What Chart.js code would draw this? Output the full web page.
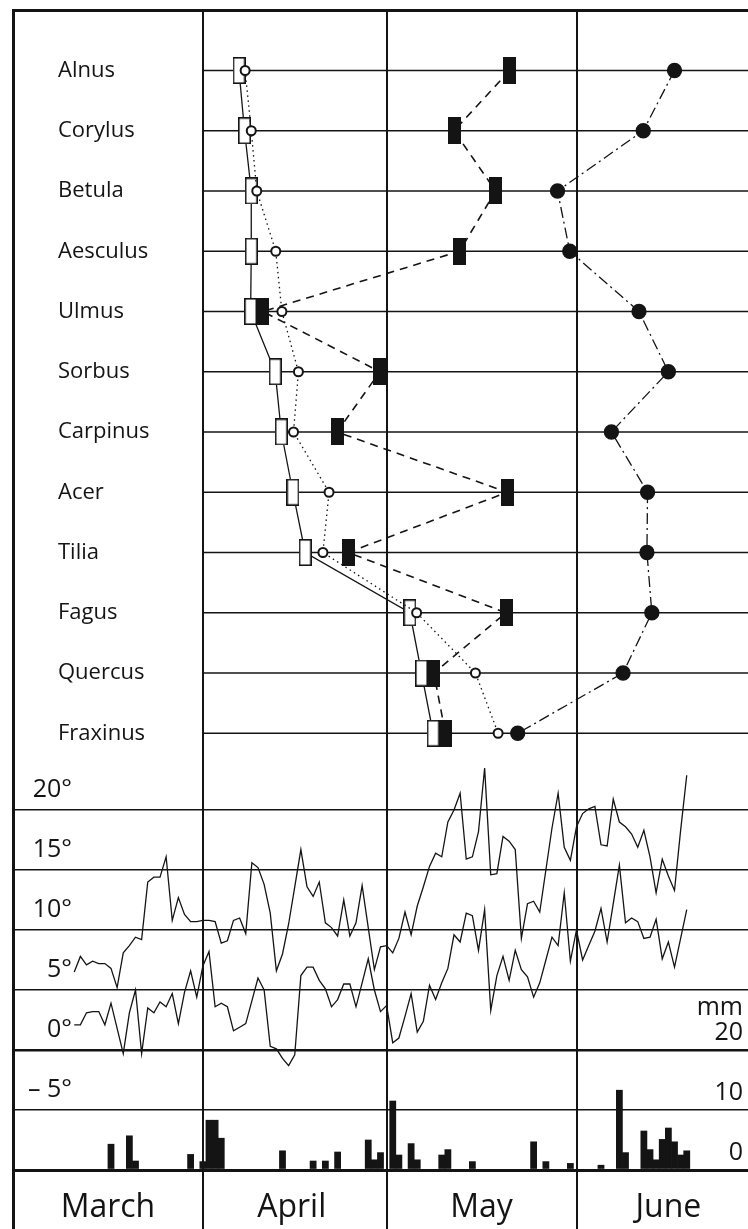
<!DOCTYPE html>
<html>
<head>
<meta charset="utf-8">
<script src="https://cdn.jsdelivr.net/npm/chart.js@4.4.1/dist/chart.umd.min.js"></script>
<style>
  html, body { margin: 0; padding: 0; background: #fff; }
  canvas { display: block; }
</style>
</head>
<body>
<canvas id="pheno-chart" width="748" height="1229"></canvas>
<script>
// day numbers count from 1 March (= 0)
const species = ["Alnus", "Corylus", "Betula", "Aesculus", "Ulmus", "Sorbus",
  "Carpinus", "Acer", "Tilia", "Fagus", "Quercus", "Fraxinus"];
const openRectDay = [36.9, 37.8, 38.9, 38.9, 38.8, 42.8, 43.8, 45.7, 47.7, 64.8, 66.7, 68.6];
const openCircleDay = [37.9, 38.9, 39.8, 42.9, 43.9, 46.6, 45.8, 51.6, 50.6, 65.9, 75.5, 79.2];
const filledRectDay = [81.1, 72.0, 78.8, 72.9, 40.8, 59.9, 52.9, 80.7, 54.7, 80.5, 68.7, 70.6];
const filledCircleDay = [108.0, 102.9, 88.9, 90.9, 102.2, 107.0, 97.7, 103.6, 103.5, 104.3, 99.6, 82.4];

const months = ["March", "April", "May", "June"];
const monthStart = [31, 61, 92];
const monthMid = [15.5, 45.5, 76.5, 107];

const tempTicks = [-5, 0, 5, 10, 15, 20];
const rainTicks = [0, 10, 20];

const tempFirstDay = 10;
const tempMax = [
  6.5, 7.8, 7.1, 7.4, 7.2, 7.2, 6.8, 5.2, 8.1, 8.7,
  9.4, 9.2, 14.0, 14.4, 14.4, 16.1, 10.8, 12.7, 11.3, 10.7,
  10.7, 10.8, 10.8, 10.7, 8.9, 9.1, 10.8, 11.0, 9.7, 15.6,
  15.2, 13.8, 11.4, 6.6, 8.0, 10.5, 13.6, 16.7, 13.6, 12.8,
  14.0, 10.6, 10.2, 9.5, 12.5, 9.5, 10.6, 13.7, 10.2, 6.7,
  8.6, 8.7, 8.1, 9.3, 11.5, 9.6, 12.0, 13.6, 15.3, 16.4,
  16.1, 19.0, 20.0, 21.4, 15.9, 16.1, 18.2, 23.5, 14.6, 14.7,
  17.8, 17.4, 16.7, 9.3, 12.2, 12.4, 11.5, 15.0, 18.5, 21.4,
  16.9, 15.8, 18.6, 19.7, 20.1, 20.3, 17.1, 17.0, 20.9, 19.0,
  18.6, 18.0, 16.9, 18.3, 16.1, 13.1, 15.9, 14.5, 13.3, 18.3,
  22.9
];
const tempMin = [
  2.1, 2.1, 3.1, 3.2, 3.2, 2.1, 3.9, 1.8, -0.3, 3.1,
  5.0, -0.3, 3.5, 3.1, 4.0, 3.6, 4.7, 2.2, 4.8, 6.6,
  4.4, 7.0, 8.2, 3.6, 3.9, 3.6, 1.6, 1.9, 2.2, 4.1,
  6.0, 5.0, 0.3, 0.1, -0.7, -1.3, -0.4, 6.2, 6.9, 6.9,
  5.8, 5.1, 3.6, 4.2, 5.5, 5.5, 3.6, 5.6, 7.6, 5.0,
  3.2, 3.7, 0.6, 1.0, 2.8, 4.7, 1.5, 2.4, 5.4, 4.2,
  5.6, 6.8, 9.6, 9.0, 11.4, 11.2, 8.3, 11.7, 3.3, 6.2,
  7.8, 5.8, 8.3, 6.7, 6.1, 4.4, 5.6, 7.5, 9.4, 8.7,
  13.1, 7.4, 10.0, 7.5, 8.7, 9.9, 11.8, 9.0, 12.2, 15.4,
  10.6, 11.0, 10.7, 9.3, 9.4, 10.9, 7.6, 9.0, 6.9, 9.3,
  11.7
];

const rainDays = [16, 19, 20, 29, 31, 32, 33, 34, 44, 49, 51, 53, 58, 59, 60, 62, 63, 65,
  66, 70, 71, 75, 85, 87, 91, 96, 99, 100, 103, 104, 105, 106, 107, 108, 109, 110];
const rainMm = [4.3, 5.7, 1.5, 2.6, 1.4, 8.3, 8.3, 5.3, 3.2, 1.5, 1.5, 3.0, 5.0, 1.7, 2.9, 11.5, 2.5, 4.4,
  1.7, 2.5, 3.4, 1.4, 4.7, 1.4, 1.1, 0.8, 13.3, 2.9, 6.5, 3.4, 1.7, 5.1, 7.0, 4.7, 2.5, 3.2];

// styles
const INK = "#141414";
const FONT = '"Open Sans", sans-serif';

function tempLabel(v) {
  return (v < 0 ? "\u2013 " + (-v) : String(v)) + "\u00b0";
}

// temperature labels are right aligned at x = 72
const measure = document.createElement("canvas").getContext("2d");
measure.font = "25px " + FONT;
const tempLabelW = Math.max(...tempTicks.map((v) => measure.measureText(tempLabel(v)).width));

function boxMarker(filled) {
  const c = document.createElement("canvas");
  c.width = 13;
  c.height = 27;
  const g = c.getContext("2d");
  g.fillStyle = filled ? INK : "#fff";
  g.fillRect(0, 0, 13, 27);
  g.strokeStyle = INK;
  g.lineWidth = 1.6;
  g.strokeRect(0.8, 0.8, 11.4, 25.4);
  return c;
}

function setTicks(values) {
  return (scale) => {
    scale.ticks = values.map((v) => ({ value: v }));
  };
}

// axes take no room, labels are drawn inside the plot
function flatten(scale) {
  if (scale.isHorizontal()) scale.height = 0;
  else scale.width = 0;
  scale.paddingTop = 0;
  scale.paddingBottom = 0;
  scale.paddingLeft = 0;
  scale.paddingRight = 0;
}

function series(days, extra) {
  return Object.assign({
    type: "line",
    yAxisID: "y",
    data: days.map((d, i) => ({ x: d, y: i })),
    borderColor: INK,
    borderWidth: 1.3,
    tension: 0,
    fill: false,
  }, extra);
}

const datasets = [
  series(filledCircleDay, {
    borderDash: [11, 4, 2, 4],
    pointStyle: "circle",
    pointRadius: 7,
    pointBackgroundColor: INK,
    pointBorderColor: INK,
  }),
  series(filledRectDay, {
    borderDash: [8, 6],
    borderWidth: 1.6,
    pointStyle: boxMarker(true),
    pointRadius: 6,
  }),
  series(openCircleDay, {
    borderDash: [1.5, 3.5],
    pointStyle: "circle",
    pointRadius: 4.5,
    pointBorderWidth: 2,
    pointBackgroundColor: "#fff",
    pointBorderColor: INK,
  }),
  series(openRectDay, {
    pointStyle: boxMarker(false),
    pointRadius: 6,
  }),
  {
    type: "line",
    yAxisID: "yT",
    data: tempMax.map((t, i) => ({ x: tempFirstDay + i, y: t })),
    borderColor: INK,
    borderWidth: 1.3,
    pointRadius: 0,
    tension: 0,
  },
  {
    type: "line",
    yAxisID: "yT",
    data: tempMin.map((t, i) => ({ x: tempFirstDay + i, y: t })),
    borderColor: INK,
    borderWidth: 1.3,
    pointRadius: 0,
    tension: 0,
  },
  {
    type: "bar",
    yAxisID: "yP",
    data: rainDays.map((d, i) => ({ x: d, y: rainMm[i] })),
    backgroundColor: INK,
    borderWidth: 0,
    categoryPercentage: 1,
    barPercentage: 1,
  },
];

// one line for each species, from 1 April to the right edge
species.forEach((s, i) => {
  datasets.push({
    type: "line",
    yAxisID: "y",
    data: [{ x: monthStart[0], y: i }, { x: 120, y: i }],
    borderColor: INK,
    borderWidth: 1.6,
    pointRadius: 0,
  });
});

new Chart(document.getElementById("pheno-chart"), {
  type: "line",
  data: { datasets: datasets },
  options: {
    responsive: false,
    animation: false,
    events: [],
    devicePixelRatio: 1,
    layout: {
      autoPadding: false,
      padding: { left: 13, top: 10, right: 0, bottom: 0 },
    },
    plugins: {
      legend: { display: false },
      tooltip: { enabled: false },
    },
    scales: {
      x: {
        type: "linear",
        position: "top",
        min: 0,
        max: 120,
        offset: false,
        afterBuildTicks: setTicks(monthStart),
        ticks: { display: false },
        grid: { color: INK, lineWidth: 2, drawTicks: false, offset: false },
        border: { display: true, color: INK, width: 3 },
      },
      xm: {
        type: "linear",
        position: "bottom",
        min: 0,
        max: 120,
        afterBuildTicks: setTicks(monthMid),
        afterFit: flatten,
        grid: { display: false },
        border: { display: false },
        ticks: {
          mirror: true,
          padding: 2,
          autoSkip: false,
          maxRotation: 0,
          color: INK,
          font: { family: FONT, size: 32 },
          callback: (v) => months[monthMid.indexOf(v)],
        },
      },
      y: {
        type: "linear",
        position: "left",
        reverse: true,
        min: -1.004,
        max: 19.228,
        afterBuildTicks: setTicks(species.map((s, i) => i)),
        afterFit: flatten,
        grid: { display: false },
        border: { display: true, color: INK, width: 3 },
        ticks: {
          mirror: true,
          padding: 45,
          autoSkip: false,
          color: INK,
          font: { family: FONT, size: 22 },
          callback: (v) => species[v],
        },
      },
      yT: {
        type: "linear",
        position: "left",
        min: -14.917,
        max: 86.667,
        afterBuildTicks: setTicks(tempTicks),
        afterFit: flatten,
        grid: {
          color: INK,
          drawTicks: false,
          lineWidth: (ctx) => (ctx.tick && ctx.tick.value === 0 ? 2.6 : 1.4),
        },
        border: { display: false },
        ticks: {
          mirror: true,
          crossAlign: "far",
          padding: 59 - tempLabelW,
          labelOffset: -20,
          autoSkip: false,
          color: INK,
          font: { family: FONT, size: 25 },
          callback: (v) => tempLabel(v),
        },
      },
      yP: {
        type: "linear",
        position: "right",
        min: -9.833,
        max: 193.333,
        afterBuildTicks: setTicks(rainTicks),
        afterFit: flatten,
        grid: {
          color: INK,
          drawTicks: false,
          lineWidth: (ctx) => (ctx.tick && ctx.tick.value === 0 ? 3 : 0),
        },
        border: { display: false },
        ticks: {
          // mirrored right-hand labels sit at left + padding
          mirror: true,
          padding: -5,
          labelOffset: -17,
          autoSkip: false,
          color: INK,
          font: { family: FONT, size: 25, lineHeight: 1 },
          callback: (v) => (v === 20 ? ["mm", "20", ""] : String(v)),
        },
      },
    },
  },
});
</script>
</body>
</html>
